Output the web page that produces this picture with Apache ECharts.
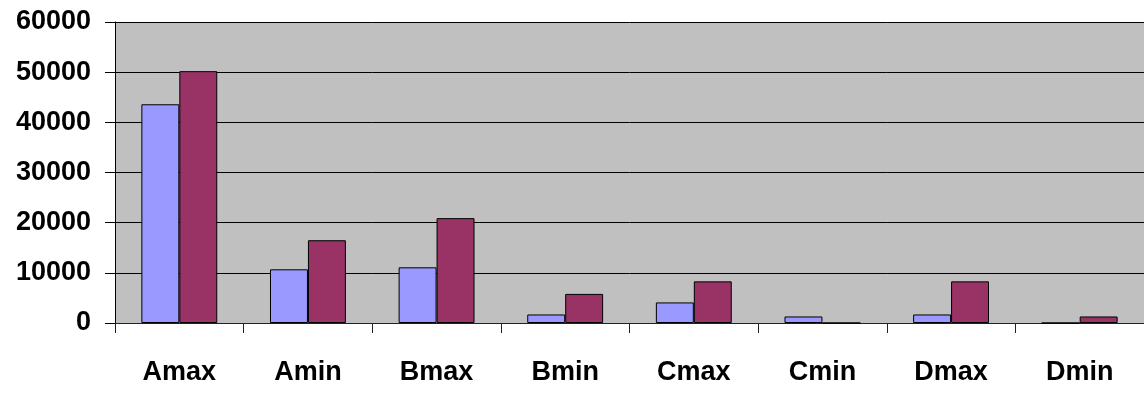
<!DOCTYPE html>
<html>
<head>
<meta charset="utf-8">
<script src="https://cdn.jsdelivr.net/npm/echarts@6/dist/echarts.min.js"></script>
<style>
  html, body { margin: 0; padding: 0; background: #fff; }
  #chart { width: 1144px; height: 394px; }
</style>
</head>
<body>
<div id="chart"></div>
<script>
// Categories along the x axis
const categories = ['Amax', 'Amin', 'Bmax', 'Bmin', 'Cmax', 'Cmin', 'Dmax', 'Dmin'];
// First series (lavender bars)
const seriesA = [43600, 10700, 11100, 1700, 4100, 1300, 1700, 0];
// Second series (maroon bars)
const seriesB = [50200, 16500, 20900, 5800, 8300, 0, 8300, 1300];
// Value axis range
const yMin = 0;
const yMax = 60000;
const yStep = 10000;

const labelFont = {
  fontFamily: '"Liberation Sans", Arial, sans-serif',
  fontWeight: 'bold',
  fontSize: 27,
  color: '#000'
};

const chart = echarts.init(document.getElementById('chart'), null, { renderer: 'canvas' });

chart.setOption({
  animation: false,
  grid: {
    left: 115,
    right: 0,
    top: 22,
    bottom: 71,
    show: true,
    backgroundColor: '#C0C0C0',
    borderWidth: 0
  },
  xAxis: {
    type: 'category',
    data: categories,
    boundaryGap: true,
    axisLine: { show: true, lineStyle: { color: '#222', width: 1 } },
    axisTick: { show: true, length: 10, lineStyle: { color: '#222', width: 1 } },
    axisLabel: Object.assign({ margin: 36, lineHeight: 27 }, labelFont),
    splitLine: { show: false }
  },
  yAxis: {
    type: 'value',
    min: yMin,
    max: yMax,
    interval: yStep,
    axisLine: { show: true, lineStyle: { color: '#000', width: 1 } },
    axisTick: { show: true, length: 10, lineStyle: { color: '#000', width: 1 } },
    axisLabel: Object.assign({ margin: 24, formatter: (v) => String(v) }, labelFont),
    splitLine: { show: true, lineStyle: { color: '#000', width: 1 } }
  },
  series: [
    {
      type: 'bar',
      data: seriesA,
      barGap: '0%',
      barCategoryGap: '41%',
      itemStyle: { color: '#9999FF', borderColor: '#000', borderWidth: 1 }
    },
    {
      type: 'bar',
      data: seriesB,
      barGap: '0%',
      barCategoryGap: '41%',
      itemStyle: { color: '#993366', borderColor: '#000', borderWidth: 1 }
    }
  ]
});
</script>
</body>
</html>
